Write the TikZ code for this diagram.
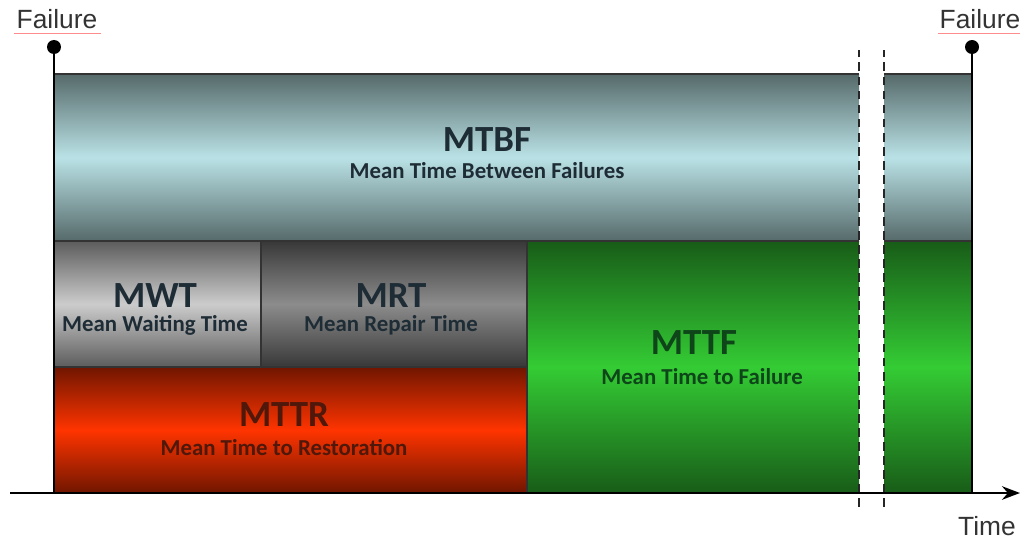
\documentclass[tikz,border=0pt]{standalone}
\usepackage{fontspec}
\setmainfont{Carlito}
\newfontfamily\labelfont{Liberation Sans}
\usetikzlibrary{arrows.meta}
\definecolor{slate}{RGB}{30,44,54}
\definecolor{tbfdark}{RGB}{86,106,106}
\definecolor{tbflight}{RGB}{186,226,230}
\definecolor{wtdark}{RGB}{92,92,92}
\definecolor{wtlight}{RGB}{204,204,204}
\definecolor{rtdark}{RGB}{56,56,56}
\definecolor{rtlight}{RGB}{140,140,140}
\definecolor{trdark}{RGB}{112,22,0}
\definecolor{trlight}{RGB}{255,52,0}
\definecolor{trtext}{RGB}{80,24,10}
\definecolor{tfdark}{RGB}{24,92,24}
\definecolor{tflight}{RGB}{52,204,52}
\definecolor{tftext}{RGB}{14,70,26}
\begin{document}
\begin{tikzpicture}[x=0.02cm, y=0.02cm, >=Stealth]
  \tikzset{
    edge/.style={draw=black!80, line width=0.7pt},
    title/.style={font=\bfseries\fontsize{21}{24}\selectfont, text=slate},
    sub/.style={font=\bfseries\fontsize{13}{15}\selectfont, text=slate},
    breakline/.style={black!85, line width=1.3pt, dash pattern=on 5pt off 3pt},
    axislabel/.style={font=\labelfont\fontsize{15}{18}\selectfont, text=black!80},
  }
  \useasboundingbox (0,0) rectangle (1024,542);
  % time points along the axis
  \coordinate (t0) at (54,49);
  \coordinate (t2) at (527,49);
  \coordinate (t3) at (972,49);
  % shaded bars
  \shade[top color=tbfdark, bottom color=tbfdark, middle color=tbflight] (54,301) rectangle (859,468);
  \shade[top color=tbfdark, bottom color=tbfdark, middle color=tbflight] (884,301) rectangle (972,468);
  \shade[top color=wtdark, bottom color=wtdark, middle color=wtlight] (54,175) rectangle (261,301);
  \shade[top color=rtdark, bottom color=rtdark, middle color=rtlight] (261,175) rectangle (527,301);
  \shade[top color=trdark, bottom color=trdark, middle color=trlight] (54,49) rectangle (527,175);
  \shade[top color=tfdark, bottom color=tfdark, middle color=tflight] (527,49) rectangle (859,301);
  \shade[top color=tfdark, bottom color=tfdark, middle color=tflight] (884,49) rectangle (972,301);
  % outlines
  \draw[edge] (54,468) -- (859,468);
  \draw[edge] (884,468) -- (972,468);
  \draw[edge] (54,301) -- (859,301);
  \draw[edge] (884,301) -- (972,301);
  \draw[edge] (54,175) -- (527,175);
  \draw[edge] (261,175) -- (261,301);
  \draw[edge] (t2) -- (527,301);
  \draw[breakline] (859,35) -- (859,492);
  \draw[breakline] (884,35) -- (884,492);
  % failure pins
  \draw[line width=1.2pt] (t0) -- (54,495);
  \draw[line width=1.2pt] (t3) -- (972,495);
  \fill (54,495) circle (7);
  \fill (972,495) circle (7);
  \node[axislabel] (fail1) at (57,523) {Failure};
  \node[axislabel] (fail2) at (980,523) {Failure};
  \draw[red!45, line width=0.5pt] (14,509) -- (101,509);
  \draw[red!45, line width=0.5pt] (938,509) -- (1020,509);
  % time axis
  \draw[->, line width=1.6pt] (10,49) -- (1020,49);
  \node[axislabel] (time) at (987,16) {Time};
  % labels
  \node[title] (mtbf) at (487,402) {MTBF};
  \node[sub] (mtbfs) at (487,371) {Mean Time Between Failures};
  \node[title] (mwt) at (155,246) {MWT};
  \node[sub] (mwts) at (155,217) {Mean Waiting Time};
  \node[title] (mrt) at (391,246) {MRT};
  \node[sub] (mrts) at (391,217) {Mean Repair Time};
  \node[title, text=trtext] (mttr) at (284,127) {MTTR};
  \node[sub, text=trtext] (mttrs) at (284,94) {Mean Time to Restoration};
  \node[title, text=tftext] (mttf) at (694,199) {MTTF};
  \node[sub, text=tftext] (mttfs) at (702,165) {Mean Time to Failure};
\end{tikzpicture}
\end{document}
